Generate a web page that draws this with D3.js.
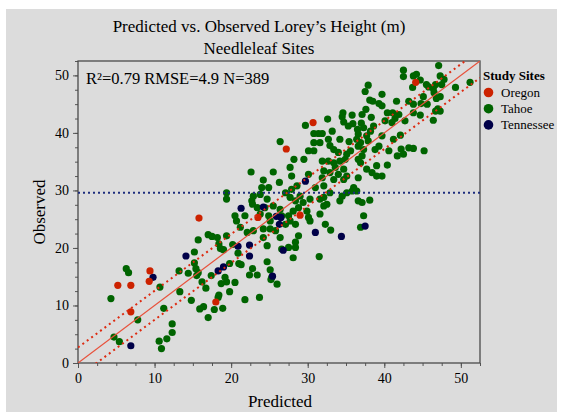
<!DOCTYPE html>
<html><head><meta charset="utf-8">
<script src="https://cdn.jsdelivr.net/npm/d3@7"></script>
<style>body{margin:0;background:#fff}svg{display:block}text{font-family:"Liberation Serif","DejaVu Serif",serif;fill:#000}</style>
</head><body><svg id="chart" width="563" height="414"></svg>
<script>
const titleLines = ["Predicted vs. Observed Lorey\u2019s Height (m)", "Needleleaf Sites"];
const statsText = "R\u00B2=0.79 RMSE=4.9 N=389";
const xLabel = "Predicted", yLabel = "Observed";
const sites = ["Oregon", "Tahoe", "Tennessee"];
const siteColors = ["#cc2200", "#006400", "#000048"];
const xTicks = [0, 10, 20, 30, 40, 50];
const yTicks = [0, 10, 20, 30, 40, 50];
const axisMax = 52.5;
const meanObserved = 29.6;
const upperBand = [2.7, 0.985];   // intercept, slope
const lowerBand = [-2.4, 0.99];

const oregon = [[5.2,13.5],[6.9,13.5],[9.4,16.0],[9.3,14.2],[6.9,8.9],[18.0,10.6],[15.8,25.2],[23.5,25.3],[29.0,25.7],[30.7,41.8],[27.2,37.2],[44.1,48.8]];
const tennessee = [[9.8,14.9],[14.1,18.6],[21.3,26.9],[24.2,27.1],[20.9,20.3],[22.4,20.5],[22.4,18.6],[19.0,16.7],[18.3,16.0],[25.4,15.1],[25.9,25.5],[26.5,25.3],[26.3,24.1],[26.8,19.6],[29.7,31.6],[31.0,22.7],[34.4,22.0],[37.5,23.8],[6.9,3.0]];
const tahoe = [
[4.3,11.2],[7.8,7.5],[4.7,4.5],[5.4,3.7],[10.6,3.8],[10.9,2.5],[11.6,4.2],[21.8,11.0],[23.7,11.4],[25.2,14.5],
[15.7,21.4],[17.0,22.3],[17.5,22.0],[18.2,21.8],[19.4,22.1],[18.4,20.7],[18.6,19.9],[19.0,19.7],[20.2,20.6],[20.9,19.1],
[15.2,19.3],[15.2,17.4],[15.4,16.4],[15.7,15.7],[15.5,15.2],[14.4,15.6],[13.2,16.0],[16.2,14.1],[16.7,13.0],[17.4,15.2],
[19.8,17.3],[21.0,17.3],[19.2,14.9],[19.4,14.1],[18.7,13.8],[20.5,14.0],[19.8,12.4],[18.4,11.8],[18.3,11.4],[18.9,9.5],
[17.8,9.3],[17.0,7.9],[16.4,9.8],[15.9,9.4],[14.8,10.9],[13.3,12.4],[11.2,9.5],[10.7,13.2],[12.3,6.8],[12.3,5.3],
[23.4,15.3],[22.4,15.3],[24.7,17.6],[25.3,14.9],[25.1,16.2],[22.8,16.4],[26.0,13.7],[21.3,17.1],[6.3,16.4],[6.6,15.7],
[22.6,33.2],[25.5,33.2],[24.2,31.8],[24.0,30.5],[24.9,30.5],[26.3,31.4],[27.7,34.0],[28.2,35.4],[27.9,32.5],[28.6,30.8],
[27.9,30.2],[30.3,28.5],[31.6,28.5],[27.1,29.6],[27.7,28.8],[28.4,28.2],[29.0,29.0],[29.4,27.9],[28.8,27.0],[29.9,26.4],
[30.3,24.7],[30.1,25.3],[28.1,26.4],[27.5,25.6],[27.7,24.7],[27.1,24.1],[28.4,24.1],[31.6,25.9],[28.8,22.1],[28.4,21.0],
[28.4,20.1],[26.4,21.8],[25.8,23.0],[25.1,24.7],[25.5,27.3],[24.7,28.5],[23.8,29.3],[22.9,29.0],[22.7,28.2],[22.8,27.6],
[23.4,27.0],[24.4,27.0],[23.8,25.9],[24.9,25.6],[25.1,23.3],[24.2,23.3],[24.2,21.8],[22.9,23.0],[22.1,22.7],[21.2,23.6],
[20.5,25.6],[20.7,24.7],[21.8,25.6],[19.4,29.6],[19.4,28.5],[24.7,20.4],[26.6,19.8],[27.5,20.1],[26.4,26.7],[26.6,25.6],
[28.1,18.3],[31.5,18.5],
[37.9,48.3],[37.5,47.2],[38.1,45.7],[38.5,45.5],[39.3,45.1],[37.6,44.1],[37.1,43.2],[38.3,42.7],[34.6,43.5],[34.5,42.8],
[35.8,43.1],[34.7,41.9],[35.9,41.6],[37.0,41.7],[37.3,40.9],[36.5,40.6],[38.6,41.2],[38.2,40.3],[32.6,42.4],[29.7,41.3],
[30.8,39.9],[31.4,39.9],[31.9,39.9],[33.2,40.3],[30.8,38.3],[31.6,38.3],[32.7,38.9],[32.9,37.8],[33.4,37.1],[34.2,38.9],
[35.4,38.5],[36.6,39.8],[36.4,38.9],[36.9,38.3],[37.7,39.5],[37.9,38.6],[39.3,37.7],[38.8,37.1],[36.6,37.7],[37.3,37.1],
[37.1,36.0],[35.6,36.9],[36.6,35.4],[34.9,35.4],[35.1,36.3],[34.0,36.6],[34.2,35.1],[33.4,34.8],[32.7,35.1],[31.9,35.1],
[30.1,36.9],[30.8,36.9],[29.5,35.4],[34.7,33.7],[35.1,32.5],[33.6,34.0],[34.0,32.8],[32.9,33.1],[32.1,33.4],[31.9,32.2],
[33.4,31.9],[34.7,31.9],[36.6,32.2],[37.7,33.7],[39.0,34.3],[38.4,33.1],[39.0,32.5],[36.0,30.5],[32.1,30.8],[31.0,30.5],
[30.1,32.8],[36.9,34.8],[35.3,41.2],[39.7,32.5],
[47.1,51.7],[42.5,50.9],[42.5,49.8],[43.8,49.9],[44.2,50.2],[43.7,47.9],[44.7,49.2],[45.5,48.4],[45.8,48.0],[46.4,47.7],
[46.7,48.4],[47.3,49.9],[47.8,49.3],[47.5,48.4],[46.5,47.0],[47.3,46.3],[49.3,47.9],[51.2,48.8],[39.7,46.7],[41.6,45.5],
[43.2,45.5],[43.8,45.0],[44.8,45.1],[45.1,46.3],[45.6,45.0],[46.8,46.0],[47.0,44.2],[47.3,43.8],[46.7,43.8],[44.7,43.1],
[46.4,42.2],[43.8,43.5],[42.7,42.1],[39.7,44.7],[40.4,43.5],[41.1,43.5],[41.9,43.2],[41.4,42.5],[40.1,42.1],[41.0,41.8],
[39.7,39.5],[41.2,38.9],[42.1,39.6],[42.2,37.2],[43.2,37.4],[43.8,37.3],[45.2,36.9],[40.6,36.9],[41.7,36.0],[42.5,36.3],
[40.4,34.4],
[36.4,29.9],[35.8,29.9],[35.1,29.6],[34.5,29.0],[34.2,28.2],[36.6,28.2],[37.1,27.9],[38.1,28.3],[32.9,29.6],[32.1,28.8],
[32.5,27.6],[32.1,27.3],[37.3,25.6],[36.9,23.6],[32.3,24.1],[33.0,23.1],[26.4,38.5]
];

const svg = d3.select("#chart");
svg.append("rect").attr("x",6).attr("y",9).attr("width",551).attr("height",403).attr("fill","#dcdcdc");

const L = 78, R = 480, T = 61, B = 363;
const x = d3.scaleLinear().domain([0, axisMax]).range([L, R]);
const y = d3.scaleLinear().domain([0, axisMax]).range([B, T]);

// title
svg.selectAll("text.title").data(titleLines).join("text")
  .attr("x", 259).attr("y", (d,i) => 32 + i*22).attr("text-anchor","middle")
  .attr("font-size", 17).text(d => d);

svg.append("defs").append("clipPath").attr("id","plotclip")
  .append("rect").attr("x",L).attr("y",T).attr("width",R-L).attr("height",B-T);

// axes
const minor = d3.range(0, axisMax+0.01, 2.5);
const xAxis = d3.axisBottom(x).tickValues(minor).tickSize(3).tickFormat("");
const yAxis = d3.axisLeft(y).tickValues(minor).tickSize(3).tickFormat("");
const gx = svg.append("g").attr("transform",`translate(0,${B})`).call(xAxis);
const gy = svg.append("g").attr("transform",`translate(${L},0)`).call(yAxis);
svg.append("g").attr("transform",`translate(0,${B})`)
  .call(d3.axisBottom(x).tickValues(xTicks).tickSize(5).tickPadding(5).tickFormat(d3.format("d")))
  .call(g => g.selectAll("text").attr("font-size",14).style("font-family","Liberation Serif"));
svg.append("g").attr("transform",`translate(${L},0)`)
  .call(d3.axisLeft(y).tickValues(yTicks).tickSize(5).tickPadding(4).tickFormat(d3.format("d")))
  .call(g => g.selectAll("text").attr("font-size",14).style("font-family","Liberation Serif"));
svg.selectAll(".domain").remove();
svg.selectAll(".tick line").attr("stroke","#555");
svg.append("rect").attr("x",L).attr("y",T).attr("width",R-L).attr("height",B-T)
  .attr("fill","none").attr("stroke","#4a4a4a").attr("stroke-width",1.3);

// points
const plot = svg.append("g").attr("clip-path","url(#plotclip)");
const groups = [[tahoe,1],[tennessee,2],[oregon,0]];
groups.forEach(([pts, ci]) => {
  plot.append("g").selectAll("circle").data(pts).join("circle")
    .attr("cx", d => x(d[0])).attr("cy", d => y(d[1])).attr("r", 3.6)
    .attr("fill", siteColors[ci]);
});

// reference lines
const lineGen = d3.line().x(d => x(d[0])).y(d => y(d[1]));
const ext = [0, axisMax];
plot.append("path").datum(ext.map(v => [v, v])).attr("d", lineGen)
  .attr("stroke","#e8503a").attr("stroke-width",1.2).attr("fill","none");
[upperBand, lowerBand].forEach(b => {
  plot.append("path").datum(ext.map(v => [v, b[0] + b[1]*v])).attr("d", lineGen)
    .attr("stroke","#dd2a10").attr("stroke-width",2).attr("stroke-dasharray","2,3.5").attr("fill","none");
});
plot.append("path").datum(ext.map(v => [v, meanObserved])).attr("d", lineGen)
  .attr("stroke","#1c2c7c").attr("stroke-width",2).attr("stroke-dasharray","2,3").attr("fill","none");

// stats
svg.append("text").attr("x",86).attr("y",84).attr("font-size",16.5).text(statsText);

// axis labels
svg.append("text").attr("x",280).attr("y",407).attr("text-anchor","middle").attr("font-size",17).text(xLabel);
svg.append("text").attr("transform","translate(45,212) rotate(-90)").attr("text-anchor","middle").attr("font-size",17).text(yLabel);

// legend
const lg = svg.append("g");
lg.append("text").attr("x",483).attr("y",80).attr("font-size",13).attr("font-weight","bold").text("Study Sites");
sites.forEach((s,i) => {
  lg.append("circle").attr("cx",488.5).attr("cy",92.5 + i*16.2).attr("r",4.8).attr("fill",siteColors[i]);
  lg.append("text").attr("x",501).attr("y",97 + i*16.2).attr("font-size",13).text(s);
});
</script></body></html>
